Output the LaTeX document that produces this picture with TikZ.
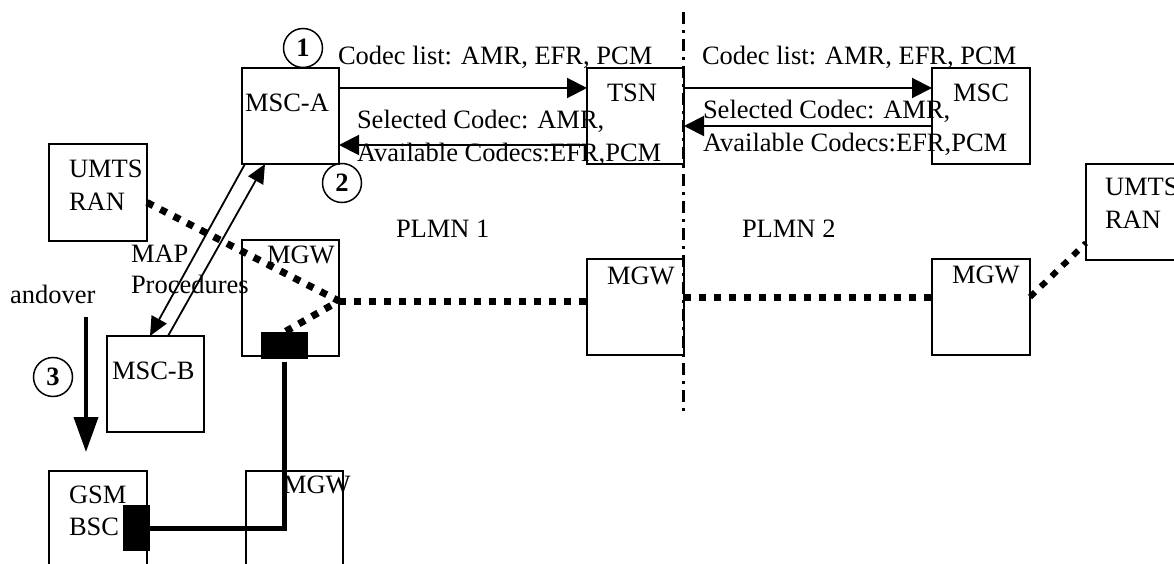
\documentclass[tikz,border=0pt]{standalone}
\usepackage{fontspec}
\setmainfont{Liberation Serif}
\usetikzlibrary{arrows.meta}
\begin{document}
\begin{tikzpicture}[x=1pt,y=-1pt,
 box/.style={draw, line width=1.6pt, minimum width=97pt, minimum height=96pt, inner sep=0pt, outer sep=0pt, anchor=north west},
 lbl/.style={anchor=base west, inner sep=0pt, outer sep=0pt, font=\fontsize{26.5}{30}\selectfont},
 num/.style={draw, circle, line width=1.5pt, minimum size=39pt, inner sep=0pt, font=\fontsize{26.5}{30}\selectfont\bfseries},
 msg/.style={line width=2pt, -{Triangle[length=20pt,width=20pt]}},
 mapmsg/.style={line width=1.8pt, -{Triangle[length=19pt,width=17pt]}},
 bear/.style={line width=7pt, dash pattern=on 7pt off 8pt},
 blk/.style={fill=black, inner sep=0pt, outer sep=0pt, anchor=north west},
 sepline/.style={line width=3pt, dash pattern=on 12pt off 6pt on 3pt off 6pt}]
\useasboundingbox (0,0) rectangle (1174,564);
\clip (0,0) rectangle (1174,564);

% boxes
\node[box] (mscA) at (242,68) {};
\node[box] (tsn) at (587,68) {};
\node[box, minimum width=98pt] (msc) at (932,68) {};
\node[box, minimum width=98pt, minimum height=97pt] (ranL) at (49,144) {};
\node[box, minimum width=98pt] (ranR) at (1086,164) {};
\node[box, minimum height=116pt] (mgwA) at (242,240) {};
\node[box] (mgwB) at (587,259) {};
\node[box, minimum width=98pt] (mgwC) at (932,259) {};
\node[box] (mscB) at (107,336) {};
\node[box, minimum width=98pt, minimum height=97pt] (bsc) at (49,471) {};
\node[box, minimum height=97pt] (mgwD) at (246,471) {};

% box labels
\node[lbl] (tMscA) at (245,112) {MSC-A};
\node[lbl] (tTsn) at (607,102) {TSN};
\node[lbl] (tMsc) at (953,102) {MSC};
\node[lbl] (tRanL1) at (69,178) {UMTS};
\node[lbl] (tRanL2) at (69,210) {RAN};
\node[lbl] (tRanR1) at (1105,196) {UMTS};
\node[lbl] (tRanR2) at (1105,228) {RAN};
\node[lbl] (tMgwA) at (267,263) {MGW};
\node[lbl] (tMgwB) at (607,284) {MGW};
\node[lbl] (tMgwC) at (952,283) {MGW};
\node[lbl] (tMgwD) at (283,493) {MGW};
\node[lbl] (tMscB) at (112,379) {MSC-B};
\node[lbl] (tBsc1) at (69,503) {GSM};
\node[lbl] (tBsc2) at (69,535) {BSC};

% other texts
\node[lbl] (cl1) at (338,65) {Codec list: AMR, EFR, PCM};
\node[lbl] (cl2) at (702,65) {Codec list: AMR, EFR, PCM};
\node[lbl] (sc1) at (357,129) {Selected Codec: AMR,};
\node[lbl] (ac1) at (357,162) {Available Codecs:EFR,PCM};
\node[lbl] (sc2) at (703,119) {Selected Codec: AMR,};
\node[lbl] (ac2) at (703,152) {Available Codecs:EFR,PCM};
\node[lbl] (plmn1) at (396,237) {PLMN 1};
\node[lbl] (plmn2) at (742,237) {PLMN 2};
\node[lbl] (map1) at (131,262) {MAP};
\node[lbl] (map2) at (131,293) {Procedures};
\node[lbl] (hand) at (10,303) {andover};

% numbered circles
\node[num] (n1) at (303,48) {1};
\node[num] (n2) at (342,183) {2};
\node[num] (n3) at (53,377) {3};

% codec messages
\draw[msg] (mscA.east |- 0,88) -- (tsn.west |- 0,88);
\draw[msg] (tsn.west |- 0,145) -- (mscA.east |- 0,145);
\draw[msg] (tsn.east |- 0,88) -- (msc.west |- 0,88);
\draw[msg] (msc.west |- 0,126) -- (tsn.east |- 0,126);

% MAP procedures
\draw[mapmsg] (245,0 |- mscA.south) -- (150,0 |- mscB.north);
\draw[mapmsg] (168,0 |- mscB.north) -- (265,0 |- mscA.south);

% PLMN border
\coordinate (sepTop) at (683,12);
\coordinate (sepBot) at (683,412);
\draw[sepline] (sepTop) -- (sepBot);

% handover arrow
\coordinate (hoS) at (86,317);
\coordinate (hoE) at (86,452);
\draw[line width=4pt, -{Triangle[length=35pt,width=24pt]}] (hoS) -- (hoE);

% black terminations
\node[blk, minimum width=47pt, minimum height=27pt] (blk1) at (261,332) {};
\node[blk, minimum width=27pt, minimum height=46pt] (blk2) at (123,505) {};

% user plane bearers
\draw[bear] ([yshift=-10pt]ranL.east) -- (mgwA.east |- 0,301) -- (blk1.north);
\draw[bear] (mgwA.east |- 0,301) -- (mgwB.west |- 0,301);
\draw[bear] (mgwB.east |- 0,297) -- (mgwC.west |- 0,297);
\draw[bear, line width=6pt] (mgwC.east |- 0,297) -- (ranR.west |- 0,243);
\draw[line width=5pt] ([yshift=-3pt]blk1.south) |- (blk2.east);
\end{tikzpicture}
\end{document}
